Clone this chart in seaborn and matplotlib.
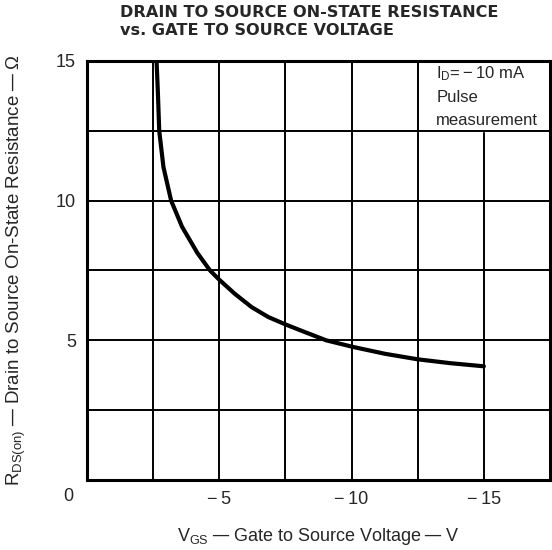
import numpy as np
import matplotlib
matplotlib.use("Agg")
import matplotlib.pyplot as plt
import pandas as pd
import seaborn as sns

sns.set_style("white")
plt.rcParams['font.family'] = ['Liberation Sans', 'DejaVu Sans']
plt.rcParams['mathtext.default'] = 'regular'

# values (ID = -10 mA)
vgs = [-2.63, -2.68, -2.73, -2.89, -3.18, -3.59, -4.17, -4.65, -5.0, -5.58, -6.22,
       -6.86, -7.5, -8.14, -9.04, -10.07, -11.25, -12.5, -13.75, -15.0]
rds = [15.0, 13.85, 12.5, 11.2, 10.0, 9.07, 8.13, 7.5, 7.17, 6.67, 6.19,
       5.83, 5.57, 5.33, 5.0, 4.76, 4.52, 4.32, 4.18, 4.07]
x_ticks = [-5, -10, -15]
x_labels = ['\u2212\u20095', '\u2212\u200910', '\u2212\u200915']
y_ticks = [5, 10, 15]
note_lines = ['I$_D$=\u2009\u2212\u200910 mA', 'Pulse', 'measurement']

df = pd.DataFrame({'vgs': vgs, 'rds': rds})

fig = plt.figure(figsize=(5.52, 5.50), dpi=100)
ax = fig.add_axes([0.1576, 0.1273, 0.8388, 0.7618])

# grid every 2.5 units
for gx in np.arange(0, -17.6, -2.5):
    ax.axvline(gx, color='black', lw=1.4, zorder=1)
for gy in np.arange(0, 15.1, 2.5):
    ax.axhline(gy, color='black', lw=1.4, zorder=1)

# white cell under the condition note
ax.fill_between([-12.5, -17.5], 12.5, 15, color='white', zorder=2)
ax.plot([-12.5, -12.5], [12.5, 15], color='black', lw=1.4, zorder=3)
ax.plot([-12.5, -17.5], [12.5, 12.5], color='black', lw=1.4, zorder=3)

sns.lineplot(data=df, x='vgs', y='rds', sort=False, color='black', lw=3, ax=ax, zorder=4)

ax.set_xlim(0, -17.5)
ax.set_ylim(0, 15)
ax.set_xticks(x_ticks)
ax.set_xticklabels(x_labels, fontsize=13)
ax.set_yticks(y_ticks)
ax.set_yticklabels([str(t) for t in y_ticks], fontsize=13)
ax.tick_params(axis='y', length=0, pad=8)
ax.tick_params(axis='x', length=0, pad=8)
ax.text(-0.03, -0.04, '0', transform=ax.transAxes, fontsize=13, ha='right', va='center')

for sp in ax.spines.values():
    sp.set_visible(True)
    sp.set_color('black')
    sp.set_linewidth(2.2)

for i, line in enumerate(note_lines):
    ax.text(-13.2, 14.55 - i * 0.84, line, fontsize=12, ha='left', va='center', zorder=5)

ax.set_xlabel('V$_{GS}$\u2009\u2014\u2009Gate to Source Voltage\u2009\u2014\u2009V', fontsize=13, labelpad=13)
ax.set_ylabel('R$_{DS(on)}$\u2009\u2014\u2009Drain to Source On-State Resistance\u2009\u2014\u2009\u03a9',
              fontsize=13.5, labelpad=20)

fig.text(0.2174, 0.977, 'DRAIN TO SOURCE ON-STATE RESISTANCE', fontsize=11.6,
         fontweight='bold', family='DejaVu Sans', ha='left', va='center')
fig.text(0.2174, 0.944, 'vs. GATE TO SOURCE VOLTAGE', fontsize=11.6,
         fontweight='bold', family='DejaVu Sans', ha='left', va='center')

fig.savefig('out.png', dpi=100)
